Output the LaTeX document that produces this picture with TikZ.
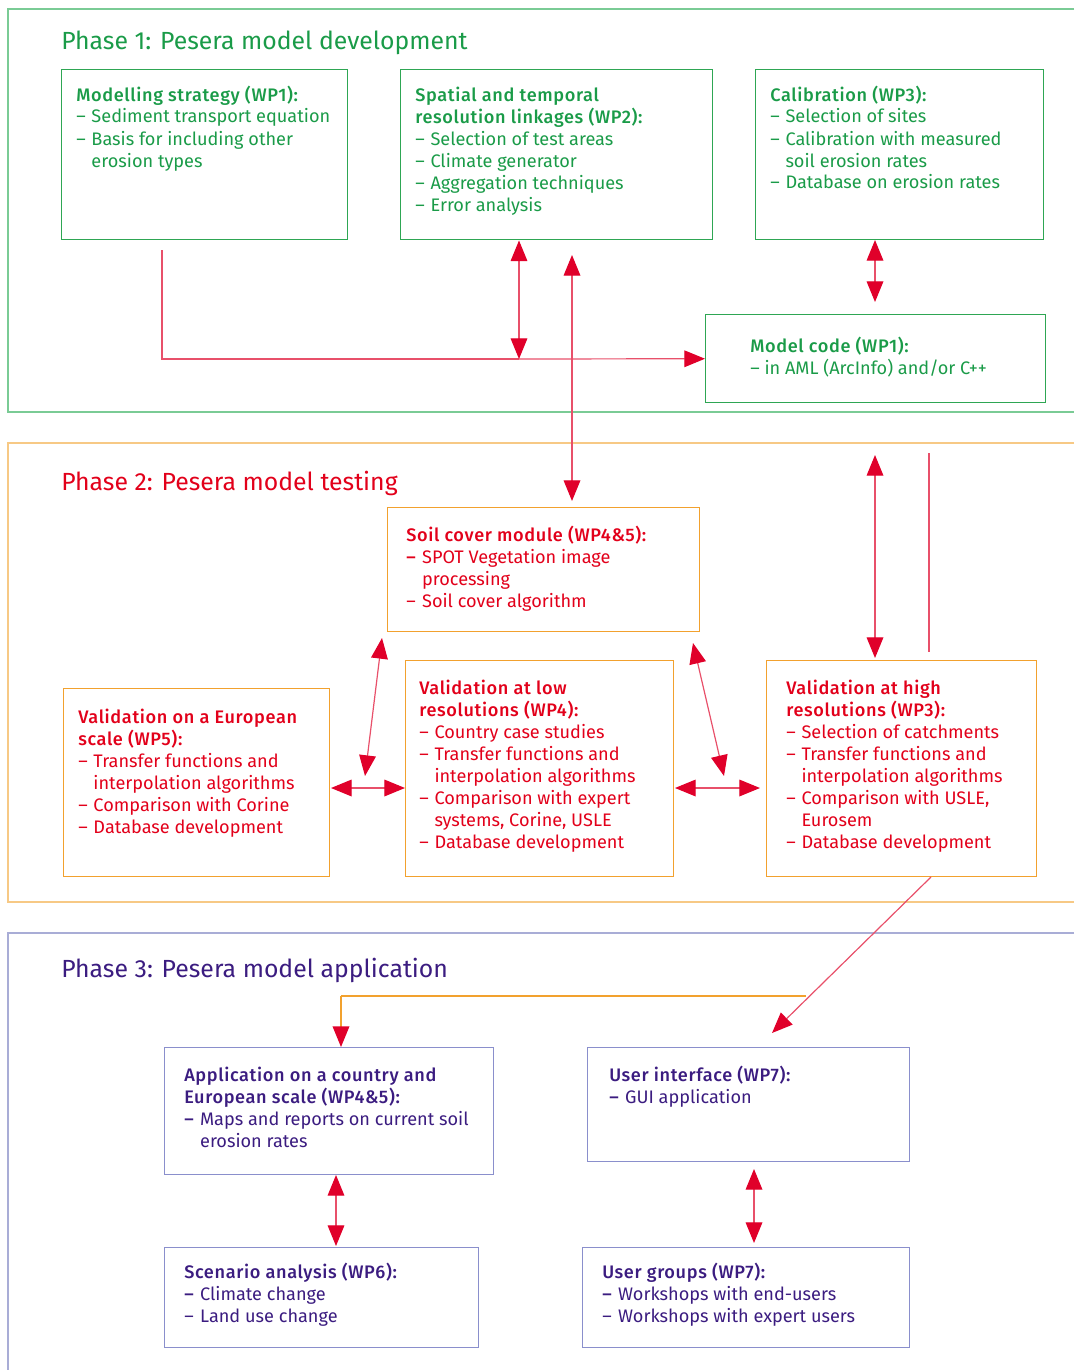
\documentclass[tikz,border=0pt]{standalone}
\usepackage{fontspec}
\setmainfont{Fira Sans}[BoldFont={Fira Sans Medium}, BoldFeatures={LetterSpace=3.5}]
\usetikzlibrary{arrows.meta,calc}

\definecolor{tgreen}{HTML}{1A9B48}
\definecolor{bgreen}{HTML}{2EA653}
\definecolor{fgreen}{HTML}{7ACB95}
\definecolor{tred}{HTML}{E2001A}
\definecolor{borange}{HTML}{F2A12E}
\definecolor{forange}{HTML}{F7C985}
\definecolor{tpurple}{HTML}{3B1C80}
\definecolor{bpurple}{HTML}{8A8FCC}
\definecolor{fpurple}{HTML}{A9ADD6}
\definecolor{lred}{HTML}{E8506A}
\definecolor{hred}{HTML}{E0002A}

% heading row and item rows of a box text
\newcommand\hd[1]{\multicolumn{2}{@{}l@{}}{\bfseries #1}}
\newcommand\bd{\textbf{–}}
\newenvironment{boxtext}{\begin{tabular}[t]{@{}l@{\hspace{0.32em}}l@{}}}{\end{tabular}}

% rectangle node given by its corners in pixel units
\newcommand\boxat[6]{\node[#1, minimum width={(#4-#2)*0.75pt}, minimum height={(#5-#3)*0.75pt}] (#6) at (#2,#3) {};}

\tikzset{
  frameline/.style={line width=1.6pt},
  pbox/.style={rectangle, inner sep=0pt, anchor=north west, line width=1.1pt},
  gbox/.style={pbox, draw=bgreen},
  obox/.style={pbox, draw=borange},
  ubox/.style={pbox, draw=bpurple},
  txt/.style={anchor=base west, inner sep=0pt, font=\fontsize{13.6}{16.5}\selectfont},
  phase/.style={anchor=base west, inner sep=0pt, font=\fontsize{18.6}{22}\selectfont},
  dbl/.style={draw=lred, line width=0.9pt, {Triangle[length=15.5pt,width=12.5pt,color=hred]}-{Triangle[length=15.5pt,width=12.5pt,color=hred]}},
  sgl/.style={draw=lred, line width=0.9pt, -{Triangle[length=15.5pt,width=12.5pt,color=hred]}},
  plain/.style={draw=lred, line width=0.9pt},
}

\begin{document}
\begin{tikzpicture}[x=0.75pt,y=-0.75pt]
\useasboundingbox (0,0) rectangle (1074,1370);

% ---------------- Phase 1 ----------------
\draw[frameline, fgreen] (1074,9) -- (8,9) -- (8,412) -- (1074,412);
\node[phase, text=tgreen] (ph1) at (61,50) {Phase 1: Pesera model development};

\boxat{gbox}{61}{69}{347}{239}{wp1}
\boxat{gbox}{400}{69}{712}{239}{wp2}
\boxat{gbox}{755}{69}{1043}{239}{wp3}
\boxat{gbox}{705}{314}{1045}{402}{code}

\node[txt, text=tgreen] (wp1t) at (76,101) {\begin{boxtext}
\hd{Modelling strategy (WP1):}\\
– & Sediment transport equation\\
– & Basis for including other\\
  & erosion types
\end{boxtext}};
\node[txt, text=tgreen] (wp2t) at (415,101) {\begin{boxtext}
\hd{Spatial and temporal}\\
\hd{resolution linkages (WP2):}\\
– & Selection of test areas\\
– & Climate generator\\
– & Aggregation techniques\\
– & Error analysis
\end{boxtext}};
\node[txt, text=tgreen] (wp3t) at (770,101) {\begin{boxtext}
\hd{Calibration (WP3):}\\
– & Selection of sites\\
– & Calibration with measured\\
  & soil erosion rates\\
– & Database on erosion rates
\end{boxtext}};
\node[txt, text=tgreen] (codet) at (750,352) {\begin{boxtext}
\hd{Model code (WP1):}\\
\multicolumn{2}{@{}l@{}}{– in AML (ArcInfo) and/or C++}
\end{boxtext}};

% ---------------- Phase 2 ----------------
\draw[frameline, forange] (1074,443) -- (8,443) -- (8,902) -- (1074,902);
\node[phase, text=tred] (ph2) at (61,490) {Phase 2: Pesera model testing};

\boxat{obox}{387}{507}{699}{631}{soil}
\boxat{obox}{63}{688}{329}{876}{euro}
\boxat{obox}{405}{660}{673}{876}{low}
\boxat{obox}{766}{660}{1036}{876}{high}

\node[txt, text=tred] (soilt) at (406,541) {\begin{boxtext}
\hd{Soil cover module (WP4\&5):}\\
\bd & SPOT Vegetation image\\
    & processing\\
– & Soil cover algorithm
\end{boxtext}};
\node[txt, text=tred] (eurot) at (78,723) {\begin{boxtext}
\hd{Validation on a European}\\
\hd{scale (WP5):}\\
– & Transfer functions and\\
  & interpolation algorithms\\
– & Comparison with Corine\\
– & Database development
\end{boxtext}};
\node[txt, text=tred] (lowt) at (419,694) {\begin{boxtext}
\hd{Validation at low}\\
\hd{resolutions (WP4):}\\
– & Country case studies\\
– & Transfer functions and\\
  & interpolation algorithms\\
– & Comparison with expert\\
  & systems, Corine, USLE\\
– & Database development
\end{boxtext}};
\node[txt, text=tred] (hight) at (786,694) {\begin{boxtext}
\hd{Validation at high}\\
\hd{resolutions (WP3):}\\
– & Selection of catchments\\
– & Transfer functions and\\
  & interpolation algorithms\\
– & Comparison with USLE,\\
  & Eurosem\\
– & Database development
\end{boxtext}};

% ---------------- Phase 3 ----------------
\draw[frameline, fpurple] (1074,933) -- (8,933) -- (8,1370);
\node[phase, text=tpurple] (ph3) at (61,977) {Phase 3: Pesera model application};

\boxat{ubox}{164}{1047}{493}{1174}{app}
\boxat{ubox}{587}{1047}{909}{1161}{ui}
\boxat{ubox}{164}{1247}{478}{1347}{scen}
\boxat{ubox}{582}{1247}{909}{1347}{ug}

\node[txt, text=tpurple] (appt) at (184,1081) {\begin{boxtext}
\hd{Application on a country and}\\
\hd{European scale (WP4\&5):}\\
\bd & Maps and reports on current soil\\
    & erosion rates
\end{boxtext}};
\node[txt, text=tpurple] (uit) at (609,1081) {\begin{boxtext}
\hd{User interface (WP7):}\\
\bd & GUI application
\end{boxtext}};
\node[txt, text=tpurple] (scent) at (184,1278) {\begin{boxtext}
\hd{Scenario analysis (WP6):}\\
\bd & Climate change\\
– & Land use change
\end{boxtext}};
\node[txt, text=tpurple] (ugt) at (602,1278) {\begin{boxtext}
\hd{User groups (WP7):}\\
\bd & Workshops with end-users\\
– & Workshops with expert users
\end{boxtext}};

% ---------------- connectors ----------------
% Phase 1
\coordinate (m1) at (162,250);
\coordinate (m2) at (519,359);
\coordinate (m3) at (572,255);
\coordinate (m4) at (875,240);
\coordinate (m5) at (875,302);
\draw[plain] (m1) |- (m2);
\draw[sgl] (m2) -- (code.west);
\draw[dbl] (wp2.south -| m2) -- (m2);
\draw[dbl] (m3) -- ($(m3 |- soil.north)+(0,-6)$);
\draw[dbl] (m4) -- (m5);

% Phase 2
\coordinate (n1) at (875,455);
\coordinate (n2) at (875,658);
\coordinate (n3) at (929,453);
\coordinate (n4) at (929,652);
\coordinate (d1) at (382,638);
\coordinate (d2) at (365,776);
\coordinate (d3) at (693,643);
\coordinate (d4) at (724,776);
\coordinate (h1) at (331,788);
\coordinate (h2) at (405,788);
\coordinate (h3) at (675,788);
\coordinate (h4) at (760,788);
\draw[dbl] (n1) -- (n2);
\draw[plain] (n3) -- (n4);
\draw[dbl] (d1) -- (d2);
\draw[dbl] (d3) -- (d4);
\draw[dbl] (h1) -- (h2);
\draw[dbl] (h3) -- (h4);
\coordinate (s1) at (931,877);
\coordinate (s2) at (772,1033);
\draw[sgl] (s1) -- (s2);

% Phase 3
\coordinate (o1) at (806,996);
\coordinate (o2) at (341,996);
\draw[draw=borange, line width=1pt] (o1) -- (o2);
\draw[draw=borange, line width=1pt, -{Triangle[length=15.5pt,width=12.5pt,color=hred]}] (o2) -- (app.north -| o2);
\coordinate (p1) at (336,1175);
\coordinate (p2) at (336,1246);
\coordinate (q1) at (754,1169);
\coordinate (q2) at (754,1243);
\draw[dbl] (p1) -- (p2);
\draw[dbl] (q1) -- (q2);
\end{tikzpicture}
\end{document}
